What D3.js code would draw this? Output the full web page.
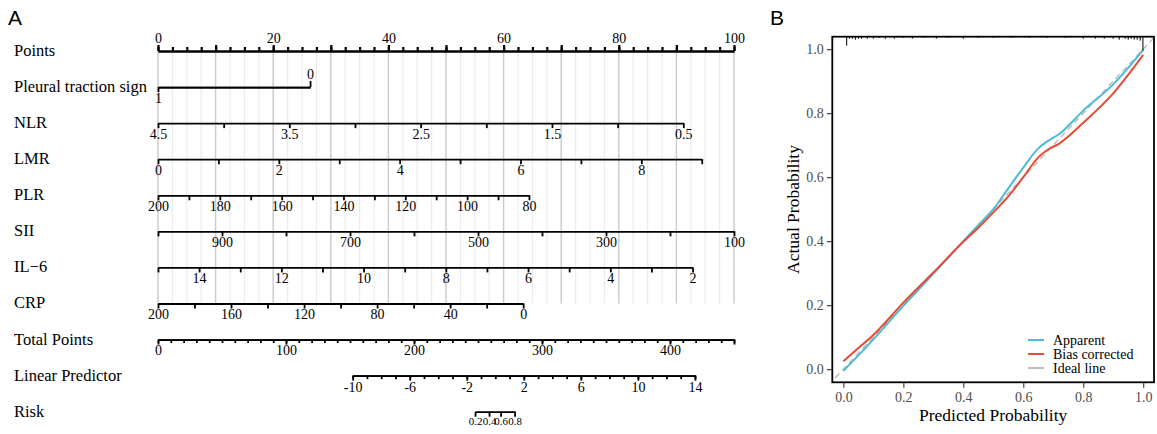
<!DOCTYPE html>
<html>
<head>
<meta charset="utf-8">
<script src="https://cdn.jsdelivr.net/npm/d3@7"></script>
<style>
  body { margin: 0; background: #fff; }
  svg { display: block; }
  .serif { font-family: "Liberation Serif", "Times New Roman", serif; }
</style>
</head>
<body>
<div id="chart"></div>
<script>
// ---------- panel A: nomogram ----------
var rowNames = ["Points", "Pleural traction sign", "NLR", "LMR", "PLR", "SII", "IL\u22126", "CRP",
                "Total Points", "Linear Predictor", "Risk"];

var predictors = ["Pleural traction sign", "NLR", "LMR", "PLR", "SII", "IL\u22126", "CRP"];
var valueAtZero = [1, 4.5, 0, 200, 1000, 15, 200];   // value sitting at 0 points
var valueAtEnd = [0, 0.5, 9, 80, 100, 2, 0];          // value at the right end of the scale
var pointsAtEnd = [26.4, 91.2, 94.4, 64.4, 100, 92.8, 63.4];
var tickValues = [
  [1, 0],
  [4.5, 4, 3.5, 3, 2.5, 2, 1.5, 1, 0.5],
  [0, 1, 2, 3, 4, 5, 6, 7, 8, 9],
  [200, 190, 180, 170, 160, 150, 140, 130, 120, 110, 100, 90, 80],
  [1000, 900, 800, 700, 600, 500, 400, 300, 200, 100],
  [15, 14, 13, 12, 11, 10, 9, 8, 7, 6, 5, 4, 3, 2],
  [200, 180, 160, 140, 120, 100, 80, 60, 40, 20, 0]
];
var tickLabels = [
  [1, 0],
  [4.5, 3.5, 2.5, 1.5, 0.5],
  [0, 2, 4, 6, 8],
  [200, 180, 160, 140, 120, 100, 80],
  [900, 700, 500, 300, 100],
  [14, 12, 10, 8, 6, 4, 2],
  [200, 160, 120, 80, 40, 0]
];

var pointsLabels = [0, 20, 40, 60, 80, 100];
var totalMax = 450;
var totalLabels = [0, 100, 200, 300, 400];
var lpLabels = [-10, -6, -2, 2, 6, 10, 14];
var lpRange = [-10, 14];
var lpTotalAt = [152.1, 419.5];   // total points where LP = -10 and LP = 14
var riskLabels = [0.2, 0.4, 0.6, 0.8];

// ---------- panel B: calibration curve ----------
var predGrid = [0, 0.05, 0.1, 0.2, 0.3, 0.4, 0.45, 0.5, 0.55, 0.6, 0.65, 0.68, 0.72, 0.8, 0.9, 1.0];
var apparent = [-0.005, 0.043, 0.093, 0.198, 0.298, 0.400, 0.450, 0.500, 0.565, 0.630, 0.690, 0.712, 0.735, 0.808, 0.890, 0.998];
var biasCorrected = [0.025, 0.066, 0.107, 0.208, 0.302, 0.398, 0.442, 0.490, 0.540, 0.600, 0.662, 0.685, 0.705, 0.770, 0.862, 0.982];
var calTicks = [0, 0.2, 0.4, 0.6, 0.8, 1.0];
var legendNames = ["Apparent", "Bias corrected", "Ideal line"];
var legendColors = ["#4DBBD5", "#E64B35", "#BEBEBE"];
// spike histogram of predicted probabilities along the top
var rugX = [0.011, 0.02, 0.03, 0.04, 0.05, 0.06, 0.08, 0.10, 0.12, 0.14, 0.17, 0.20, 0.23, 0.27, 0.31,
            0.35, 0.40, 0.45, 0.50, 0.56, 0.62, 0.68, 0.74, 0.80, 0.84, 0.87, 0.90, 0.92, 0.94,
            0.95, 0.96, 0.97, 0.98, 0.99, 0.999];
var rugN = [9, 2, 2, 3, 2, 2, 2, 2, 1, 2, 2, 1, 2, 1, 2,
            1, 2, 1, 1, 1, 1, 1, 1, 2, 2, 2, 2, 3, 2,
            3, 2, 3, 3, 4, 14];

var W = 1157, H = 434;
var svg = d3.select("#chart").append("svg")
  .attr("width", W).attr("height", H);

// ---- panel A ----
var gA = svg.append("g").attr("class", "serif");
var rowY = d3.scalePoint().domain(rowNames).range([51, 411.7]);
var px = d3.scaleLinear().domain([0, 100]).range([158, 734]);
var totalX = d3.scaleLinear().domain([0, totalMax]).range([158, 734]);
var lpX = d3.scaleLinear().domain(lpRange).range([totalX(lpTotalAt[0]), totalX(lpTotalAt[1])]);
var plain = function(d) { return String(d); };

gA.append("text").attr("x", 8).attr("y", 25)
  .style("font-family", "Liberation Sans, Arial, sans-serif").style("font-size", "21px").text("A");

// grid lines
var grid = d3.range(0, 100.001, 2.5);
gA.append("g").selectAll("line").data(grid).join("line")
  .attr("x1", function(d) { return px(d); }).attr("x2", function(d) { return px(d); })
  .attr("y1", rowY("Points")).attr("y2", rowY("CRP"))
  .attr("stroke", function(d) { return d % 10 === 0 ? "#cdcdcd" : "#ebebeb"; })
  .attr("stroke-width", function(d) { return d % 10 === 0 ? 1.5 : 1.2; });

// row labels
gA.append("g").selectAll("text").data(rowNames).join("text")
  .attr("x", 14).attr("y", function(d) { return rowY(d) + 5; })
  .style("font-size", "16.5px").text(function(d) { return d; });

function styleAxis(g, fs, sw) {
  g.select(".domain").attr("stroke", "#000").attr("stroke-width", sw);
  g.selectAll(".tick line").attr("stroke", "#000").attr("stroke-width", sw);
  g.selectAll(".tick text").attr("fill", "#000")
    .style("font-family", "Liberation Serif, Times New Roman, serif").style("font-size", fs);
}

// Points axis
var ptsMinor = gA.append("g").attr("transform", "translate(0," + rowY("Points") + ")")
  .call(d3.axisTop(px).tickValues(d3.range(0, 100.001, 2.5)).tickSize(4).tickSizeOuter(0).tickFormat(""));
styleAxis(ptsMinor, "14px", 2.2);
var ptsMajor = gA.append("g").attr("transform", "translate(0," + rowY("Points") + ")")
  .call(d3.axisTop(px).tickValues(d3.range(0, 100.001, 10)).tickSize(6).tickSizeOuter(0).tickPadding(2)
    .tickFormat(function(d) { return pointsLabels.indexOf(d) >= 0 ? d : ""; }));
styleAxis(ptsMajor, "14px", 2.2);

// predictor axes
predictors.forEach(function(name, i) {
  var sc = d3.scaleLinear().domain([valueAtZero[i], valueAtEnd[i]]).range([px(0), px(pointsAtEnd[i])]);
  var y = rowY(name);
  if (i === 0) {
    // binary variable: "1" below at the left end, "0" above at the right end
    var b = gA.append("g").attr("transform", "translate(0," + y + ")")
      .call(d3.axisBottom(sc).tickValues([tickValues[i][0]]).tickFormat(plain)
        .tickSize(5).tickSizeOuter(0).tickPadding(1));
    styleAxis(b, "14px", 1.8);
    var t = gA.append("g").attr("transform", "translate(0," + y + ")")
      .call(d3.axisTop(sc).tickValues([tickValues[i][1]]).tickFormat(plain)
        .tickSize(6).tickSizeOuter(0).tickPadding(2));
    styleAxis(t, "14px", 1.8);
    return;
  }
  var ax = gA.append("g").attr("transform", "translate(0," + y + ")")
    .call(d3.axisBottom(sc).tickValues(tickValues[i]).tickSize(5).tickSizeOuter(0).tickPadding(1)
      .tickFormat(function(d) { return tickLabels[i].indexOf(d) >= 0 ? String(d) : ""; }));
  styleAxis(ax, "14px", 1.8);
});

// Total points
var totMinor = gA.append("g").attr("transform", "translate(0," + rowY("Total Points") + ")")
  .call(d3.axisBottom(totalX).tickValues(d3.range(0, totalMax + 0.001, 10)).tickSize(3.5).tickSizeOuter(0).tickFormat(""));
styleAxis(totMinor, "14px", 1.8);
var totMajor = gA.append("g").attr("transform", "translate(0," + rowY("Total Points") + ")")
  .call(d3.axisBottom(totalX).tickValues(totalLabels.concat([totalMax])).tickSize(5).tickSizeOuter(0).tickPadding(1)
    .tickFormat(function(d) { return totalLabels.indexOf(d) >= 0 ? String(d) : ""; }));
styleAxis(totMajor, "14px", 1.8);

// Linear predictor
var lpMinor = gA.append("g").attr("transform", "translate(0," + rowY("Linear Predictor") + ")")
  .call(d3.axisBottom(lpX).tickValues(d3.range(lpRange[0], lpRange[1] + 0.001, 1)).tickSize(3.5).tickSizeOuter(0).tickFormat(""));
styleAxis(lpMinor, "14px", 1.8);
var lpMajor = gA.append("g").attr("transform", "translate(0," + rowY("Linear Predictor") + ")")
  .call(d3.axisBottom(lpX).tickValues(lpLabels).tickFormat(plain).tickSize(5).tickSizeOuter(0).tickPadding(1));
styleAxis(lpMajor, "14px", 1.8);

// Risk (positioned on the logit of the linear predictor)
var riskX = function(p) { return lpX(Math.log(p / (1 - p))); };
var riskSc = d3.scaleLinear().domain([riskLabels[0], riskLabels[riskLabels.length - 1]])
  .range([riskX(riskLabels[0]), riskX(riskLabels[riskLabels.length - 1])]);
var riskAx = gA.append("g").attr("transform", "translate(0," + rowY("Risk") + ")")
  .call(d3.axisBottom(riskSc).tickValues(riskLabels).tickFormat(plain).tickSize(5).tickSizeOuter(0).tickPadding(1));
riskAx.selectAll(".tick").attr("transform", function(d) { return "translate(" + riskX(d) + ",0)"; });
styleAxis(riskAx, "11px", 1.8);

// ---- panel B ----
var gB = svg.append("g").attr("class", "serif");
var L = 832.3, R = 1154, T = 36.7, B = 382.3;
var x = d3.scaleLinear().domain([-0.037, 1.036]).range([L, R]);
var y = d3.scaleLinear().domain([-0.041, 1.039]).range([B, T]);

gB.append("text").attr("x", 770).attr("y", 25)
  .style("font-family", "Liberation Sans, Arial, sans-serif").style("font-size", "21px").text("B");

gB.append("clipPath").attr("id", "clipB").append("rect")
  .attr("x", L).attr("y", T).attr("width", R - L).attr("height", B - T);

var plot = gB.append("g").attr("clip-path", "url(#clipB)");
plot.append("line")
  .attr("x1", x(-0.05)).attr("y1", y(-0.05)).attr("x2", x(1.05)).attr("y2", y(1.05))
  .attr("stroke", legendColors[2]).attr("stroke-width", 1.5).attr("stroke-dasharray", "6,4");

var line = d3.line().x(function(d) { return x(d[0]); }).y(function(d) { return y(d[1]); })
  .curve(d3.curveMonotoneX);
plot.append("path").datum(predGrid.map(function(p, i) { return [p, apparent[i]]; }))
  .attr("d", line).attr("fill", "none").attr("stroke", legendColors[0]).attr("stroke-width", 2);
plot.append("path").datum(predGrid.map(function(p, i) { return [p, biasCorrected[i]]; }))
  .attr("d", line).attr("fill", "none").attr("stroke", legendColors[1]).attr("stroke-width", 2);

// rug along the top
var rugH = d3.scaleLinear().domain([0, d3.max(rugN)]).range([0, 14]);
plot.append("g").selectAll("line").data(rugX).join("line")
  .attr("x1", function(d) { return x(d); }).attr("x2", function(d) { return x(d); })
  .attr("y1", T).attr("y2", function(d, i) { return T + rugH(rugN[i]); })
  .attr("stroke", "#000").attr("stroke-width", 1);

// frame
gB.append("rect").attr("x", L).attr("y", T).attr("width", R - L).attr("height", B - T)
  .attr("fill", "none").attr("stroke", "#000").attr("stroke-width", 1.8);

var xAx = gB.append("g").attr("transform", "translate(0," + B + ")")
  .call(d3.axisBottom(x).tickValues(calTicks).tickFormat(d3.format(".1f")).tickSize(5.5).tickSizeOuter(0).tickPadding(4));
var yAx = gB.append("g").attr("transform", "translate(" + L + ",0)")
  .call(d3.axisLeft(y).tickValues(calTicks).tickFormat(d3.format(".1f")).tickSize(5.5).tickSizeOuter(0).tickPadding(3));
[xAx, yAx].forEach(function(g) {
  g.select(".domain").remove();
  g.selectAll(".tick line").attr("stroke", "#333").attr("stroke-width", 1.1);
  g.selectAll(".tick text").attr("fill", "#4d4d4d")
    .style("font-family", "Liberation Serif, Times New Roman, serif").style("font-size", "14px");
});

gB.append("text").attr("x", (L + R) / 2).attr("y", 421).attr("text-anchor", "middle")
  .style("font-size", "17.5px").text("Predicted Probability");
gB.append("text").attr("transform", "translate(799," + (T + B) / 2 + ") rotate(-90)")
  .attr("text-anchor", "middle").style("font-size", "17.5px").text("Actual Probability");

// legend
var leg = gB.append("g").selectAll("g").data(legendNames).join("g")
  .attr("transform", function(d, i) { return "translate(1028," + (340 + i * 14) + ")"; });
leg.append("line").attr("x1", 0).attr("x2", 16)
  .attr("stroke", function(d, i) { return legendColors[i]; }).attr("stroke-width", 2);
leg.append("text").attr("x", 25).attr("y", 5).style("font-size", "14px").text(function(d) { return d; });
</script>
</body>
</html>
